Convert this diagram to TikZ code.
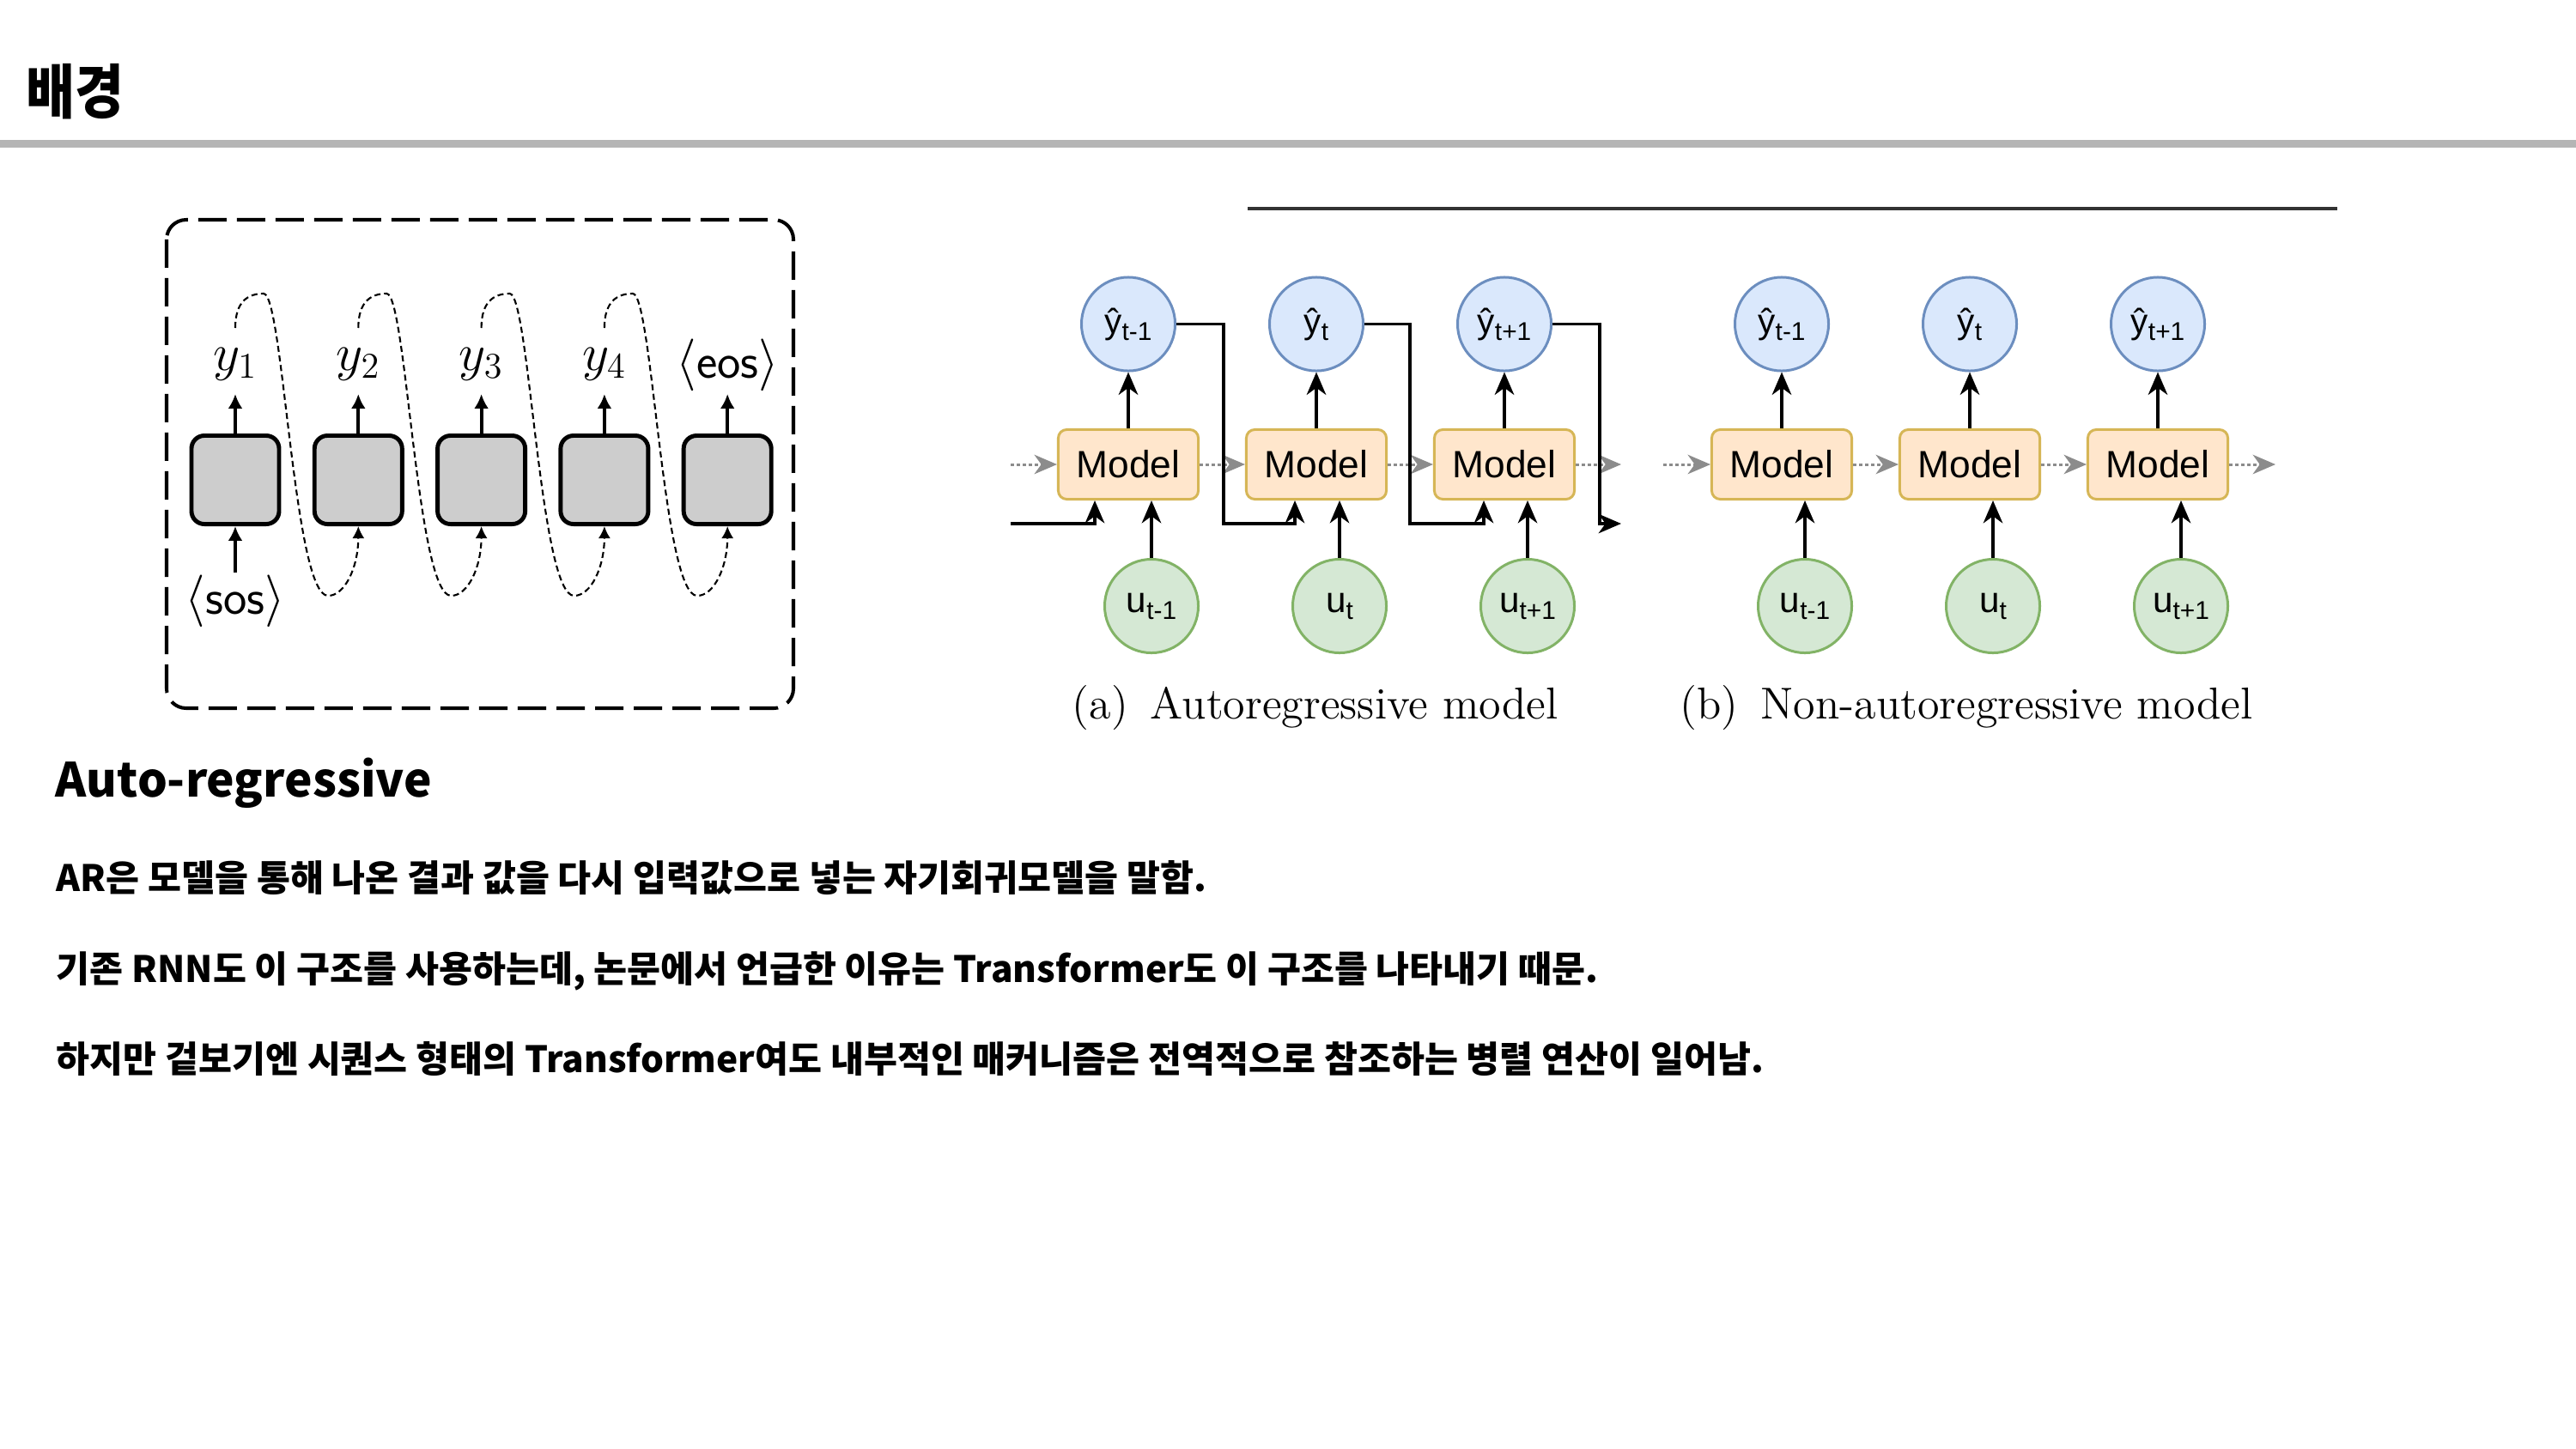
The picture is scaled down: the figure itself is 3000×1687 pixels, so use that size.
\documentclass[tikz,border=0pt]{standalone}
\usepackage{fontspec}
\newfontfamily\krfont{Noto Sans CJK KR}
\newfontfamily\krnarrow{Noto Sans CJK KR}[FakeStretch=0.9]
\newfontfamily\drawfont{Liberation Sans}
\usetikzlibrary{arrows.meta, calc}

\definecolor{rulegray}{HTML}{B5B5B5}
\definecolor{cellgray}{HTML}{CDCDCD}
\definecolor{yfill}{HTML}{DAE8FC}
\definecolor{ydraw}{HTML}{6C8EBF}
\definecolor{ufill}{HTML}{D5E8D4}
\definecolor{udraw}{HTML}{82B366}
\definecolor{mfill}{HTML}{FFE6CC}
\definecolor{mdraw}{HTML}{D6B656}
\definecolor{flowgray}{HTML}{8C8C8C}

\newcommand{\lowsub}[1]{\raisebox{-2.3pt}{\fontsize{8.5}{9}\selectfont #1}}

\tikzset{
  outerbox/.style={line width=1.15pt, dash pattern=on 9.4pt off 3.4pt, rounded corners=6.5pt},
  cell/.style={draw, line width=1.4pt, fill=cellgray, rounded corners=4.3pt,
    minimum width=1.02cm, minimum height=1.03cm, inner sep=0pt},
  lbl/.style={anchor=south, inner sep=0pt, text depth=0.27cm, font=\fontsize{16.5}{18}\selectfont},
  thickarrow/.style={line width=1.15pt, -{Latex[length=4.8pt, width=4.8pt]}},
  loopline/.style={line width=0.6pt, dash pattern=on 2pt off 1.2pt, -{Latex[length=4pt, width=4pt]}},
  model/.style={draw=mdraw, fill=mfill, line width=0.85pt, rounded corners=2.8pt,
    minimum width=1.63cm, minimum height=0.81cm, inner sep=0pt, font=\drawfont\fontsize{12.6}{14}\selectfont},
  outcircle/.style={circle, draw=ydraw, fill=yfill, line width=0.85pt, minimum size=1.09cm,
    inner sep=0pt, font=\drawfont\fontsize{11.5}{12}\selectfont},
  incircle/.style={circle, draw=udraw, fill=ufill, line width=0.85pt, minimum size=1.09cm,
    inner sep=0pt, font=\drawfont\fontsize{12}{13}\selectfont},
  flow/.style={line width=0.95pt, -{Stealth[length=7.5pt, width=6.4pt, inset=2.3pt]}},
  dotflow/.style={flowgray, line width=0.85pt, dash pattern=on 1pt off 1pt,
    -{Stealth[length=7.5pt, width=6.4pt, inset=2.3pt]}},
  caption/.style={anchor=base west, inner sep=0pt, font=\fontsize{14.8}{17}\selectfont},
  body/.style={anchor=base west, inner sep=0pt, font=\krfont\bfseries\fontsize{12.05}{14}\selectfont},
}

\begin{document}
\begin{tikzpicture}[x=0.01cm, y=-0.01cm]
    \useasboundingbox (0,0) rectangle (3000,1687);
    \fill[white] (0,0) rectangle (3000,1687);

    % slide header
    \node[anchor=base west, inner sep=0pt, font=\krnarrow\bfseries\fontsize{19.6}{22}\selectfont] (title) at (30,132) {배경};
    \draw[line width=2.6pt, rulegray] (0,167.5) -- (3000,167.5);

    % left: recurrent decoder, output fed back as next input
    \draw[outerbox] (194,256) rectangle (924,825);
    \foreach \i in {1,...,5}
        \node[cell] (b\i) at ({274+143.3*(\i-1)},559) {};
    \foreach \i/\t in {1/$y_1$, 2/$y_2$, 3/$y_3$, 4/$y_4$}
        \node[lbl] (y\i) at ({274+143.3*(\i-1)},459) {\t};
    \node[lbl, text depth=0.18cm] (y5) at (847.2,459) {$\langle$\textsf{eos}$\rangle$};
    \node[lbl, anchor=north, text height=0.48cm, text depth=0pt] (sos) at (274,667) {$\langle$\textsf{sos}$\rangle$};
    \foreach \i in {1,...,5}
        \draw[thickarrow] (b\i.north) -- (y\i.south);
    \draw[thickarrow] (sos.north) -- (b1.south);
    % dashed loops y_i -> next cell
    \foreach \i/\j in {1/2, 2/3, 3/4, 4/5} {
        \pgfmathsetmacro\cx{274+143.3*(\i-1)}
        \coordinate (lp\i) at (\cx,382);
        \draw[loopline] (lp\i) .. controls (\cx,352) and ({\cx+14},342) .. ({\cx+33},342)
            .. controls ({\cx+56},342) and ({\cx+68},694) .. ({\cx+108},694)
            .. controls ({\cx+128},694) and ({\cx+143.3},660) .. (b\j.south);
    }

    % right: (a) autoregressive and (b) non-autoregressive
    \draw[line width=0.9pt, black!80] (1453,243) -- (2722,243);
    \foreach \k/\s in {1/{t-1}, 2/t, 3/{t+1}} {
        \pgfmathsetmacro\cx{1314+219*(\k-1)}
        \node[model] (m\k) at (\cx,541) {Model};
        \node[outcircle] (yh\k) at (\cx,377.5) {ŷ\lowsub{\s}};
        \node[incircle] (u\k) at ({\cx+27},706) {u\lowsub{\s}};
        \draw[flow] (m\k.north) -- (yh\k.south);
        \draw[flow] (u\k.north) -- (u\k.north |- m\k.south);
        \pgfmathsetmacro\nx{2075+219*(\k-1)}
        \node[model] (n\k) at (\nx,541) {Model};
        \node[outcircle] (nyh\k) at (\nx,377.5) {ŷ\lowsub{\s}};
        \node[incircle] (nu\k) at ({\nx+27},706) {u\lowsub{\s}};
        \draw[flow] (n\k.north) -- (nyh\k.south);
        \draw[flow] (nu\k.north) -- (nu\k.north |- n\k.south);
    }
    % hidden state (dotted)
    \coordinate (arin) at (1177,541);
    \coordinate (arout) at (1888,541);
    \coordinate (narin) at (1937,541);
    \coordinate (narout) at (2650,541);
    \draw[dotflow] (arin) -- (m1.west);
    \draw[dotflow] (m1.east) -- (m2.west);
    \draw[dotflow] (m2.east) -- (m3.west);
    \draw[dotflow] (m3.east) -- (arout);
    \draw[dotflow] (narin) -- (n1.west);
    \draw[dotflow] (n1.east) -- (n2.west);
    \draw[dotflow] (n2.east) -- (n3.west);
    \draw[dotflow] (n3.east) -- (narout);
    % previous prediction fed back
    \coordinate (fbin) at (1177,610);
    \coordinate (fbout) at (1888,610);
    \draw[flow] (fbin) -| ($(m1.south)+(-39,0)$);
    \draw[flow] (yh1.east) -| (1425,610) -| ($(m2.south)+(-25,0)$);
    \draw[flow] (yh2.east) -| (1642,610) -| ($(m3.south)+(-24,0)$);
    \draw[flow] (yh3.east) -| (1863,610) -- (fbout);
    \node[caption] (capa) at (1248,837) {(a)\enspace Autoregressive model};
    \node[caption] (capb) at (1956,837) {(b)\enspace Non-autoregressive model};

    % text block
    \node[anchor=base west, inner sep=0pt, font=\krfont\bfseries\fontsize{15.6}{19}\selectfont] (head) at (64,928) {Auto-regressive};
    \node[body] (l1) at (65,1038) {AR은 모델을 통해 나온 결과 값을 다시 입력값으로 넣는 자기회귀모델을 말함.};
    \node[body] (l2) at (65,1144) {기존 RNN도 이 구조를 사용하는데, 논문에서 언급한 이유는 Transformer도 이 구조를 나타내기 때문.};
    \node[body] (l3) at (65,1249) {하지만 겉보기엔 시퀀스 형태의 Transformer여도 내부적인 매커니즘은 전역적으로 참조하는 병렬 연산이 일어남.};
\end{tikzpicture}
\end{document}
